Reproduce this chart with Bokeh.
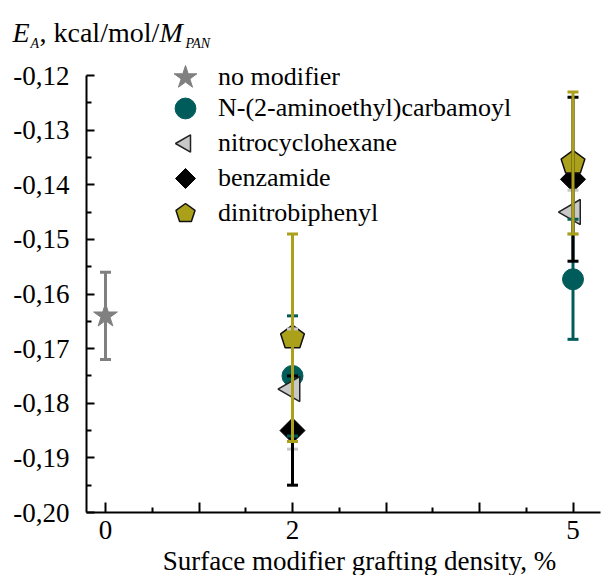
import numpy as np
from bokeh.plotting import figure
from bokeh.models import (Range1d, FixedTicker, CustomJSTickFormatter, Whisker, TeeHead,
                          ColumnDataSource, Legend, LegendItem, Label)
from bokeh.embed import file_html
from bokeh.resources import INLINE

# ---------------- data ----------------
series_names = ["no modifier", "N-(2-aminoethyl)carbamoyl", "nitrocyclohexane",
                "benzamide", "dinitrobiphenyl"]
x_nomod = [0]
y_nomod = [-0.164]
err_nomod = [0.008]

x_mod = [2, 5]
y_carbamoyl = [-0.175, -0.1573]
err_carbamoyl = [0.011, 0.011]
y_nitrocyc = [-0.1774, -0.145]
err_nitrocyc = [0.011, 0.004]
y_benzamide = [-0.185, -0.139]
err_benzamide = [0.010, 0.015]
y_dinitro = [-0.168, -0.136]
err_dinitro = [0.019, 0.013]

y_ticks = [-0.20, -0.19, -0.18, -0.17, -0.16, -0.15, -0.14, -0.13, -0.12]
y_minor = [-0.195, -0.185, -0.175, -0.165, -0.155, -0.145, -0.135, -0.125]
x_ticks = [0, 1, 2, 3, 4, 5]
x_minor = [0.5, 1.5, 2.5, 3.5, 4.5]
x_labelled = [0, 2, 5]

# ---------------- layout ----------------
W, H = 613, 575
FONT = "Liberation Serif, Times New Roman, serif"
X0_PX, X_PER_UNIT = 105.0, 93.5
Y_TOP_PX, Y_BOT_PX = 75.0, 512.0
Y_TOP, Y_BOT = -0.12, -0.20
y_per_px = (Y_TOP - Y_BOT) / (Y_BOT_PX - Y_TOP_PX)
x_start = -X0_PX / X_PER_UNIT
x_end = (W - X0_PX) / X_PER_UNIT
y_end = Y_TOP + Y_TOP_PX * y_per_px
y_start = Y_BOT - (H - Y_BOT_PX) * y_per_px
x_axis_lo = (86 - X0_PX) / X_PER_UNIT
x_axis_hi = (600 - X0_PX) / X_PER_UNIT

p = figure(width=W, height=H, output_backend="svg", toolbar_location=None,
           x_range=Range1d(x_start, x_end), y_range=Range1d(y_start, y_end),
           min_border_left=0, min_border_right=0, min_border_top=0, min_border_bottom=0)
p.outline_line_color = None
p.grid.visible = False
p.background_fill_color = "white"
p.border_fill_color = "white"

xa = p.xaxis[0]
ya = p.yaxis[0]
xa.fixed_location = Y_BOT
ya.fixed_location = x_axis_lo
xa.bounds = (x_axis_lo, x_axis_hi)
ya.bounds = (Y_BOT, Y_TOP)
xa.ticker = FixedTicker(ticks=x_ticks, minor_ticks=x_minor)
ya.ticker = FixedTicker(ticks=y_ticks, minor_ticks=y_minor)
xa.formatter = CustomJSTickFormatter(args=dict(keep=x_labelled),
                                     code="return keep.includes(tick) ? String(tick) : '';")
ya.formatter = CustomJSTickFormatter(code="return tick.toFixed(2).replace('.', ',');")
for ax in (xa, ya):
    ax.axis_line_color = "black"
    ax.axis_line_width = 2
    ax.major_tick_line_color = "black"
    ax.major_tick_line_width = 2
    ax.minor_tick_line_color = "black"
    ax.minor_tick_line_width = 2
    ax.major_tick_out = 0
    ax.minor_tick_out = 0
    ax.major_label_text_font = FONT
    ax.major_label_text_font_size = "27px"
    ax.major_label_text_color = "black"
xa.major_tick_in = 10
xa.minor_tick_in = 5
ya.major_tick_in = 8
ya.minor_tick_in = 5
xa.major_label_standoff = 8
ya.major_label_standoff = 17

# ---------------- glyphs ----------------
c_gray = "#808080"
c_teal = "#005c5a"
c_light = "#c8c8c8"
c_black = "#000000"
c_olive = "#aaa01a"

def msrc(xv, yv, ev):
    return ColumnDataSource(dict(x=xv, y=yv,
                                 lo=[a - b for a, b in zip(yv, ev)],
                                 hi=[a + b for a, b in zip(yv, ev)]))

src_nomod = msrc(x_nomod, y_nomod, err_nomod)
src_carb = msrc(x_mod, y_carbamoyl, err_carbamoyl)
src_nitro = msrc(x_mod, y_nitrocyc, err_nitrocyc)
src_benz = msrc(x_mod, y_benzamide, err_benzamide)
src_dini = msrc(x_mod, y_dinitro, err_dinitro)

r_nomod = p.scatter("x", "y", source=src_nomod, marker="star", size=25,
                    fill_color=c_gray, line_color=c_gray)
r_carb = p.scatter("x", "y", source=src_carb, marker="circle", size=21,
                   fill_color=c_teal, line_color=c_teal)
r_nitro = p.ngon("x", "y", source=src_nitro, radius=14.5, radius_units="screen", n=3,
                 angle=np.pi / 2, fill_color=c_light, line_color="#222222", line_width=1.5)
r_benz = p.ngon("x", "y", source=src_benz, radius=12.5, radius_units="screen", n=4,
                angle=0, fill_color=c_black, line_color=c_black)
r_dini = p.ngon("x", "y", source=src_dini, radius=12.5, radius_units="screen", n=5,
                angle=0, fill_color=c_olive, line_color="#111111", line_width=1.5)

for src, col in ((src_nomod, c_gray), (src_carb, c_teal), (src_nitro, c_light),
                 (src_benz, c_black), (src_dini, c_olive)):
    w = Whisker(base="x", upper="hi", lower="lo", source=src, level="overlay",
                line_color=col, line_width=3,
                upper_head=TeeHead(size=11, line_color=col, line_width=3),
                lower_head=TeeHead(size=11, line_color=col, line_width=3))
    p.add_layout(w)

# legend: one Legend per row so the row pitch can be tighter than the glyph box
row_centres = [77, 108, 143, 178, 213]   # canvas px of each legend row
glyph_boxes = [60, 52, 50, 50, 50]
MARK_CX, TEXT_X = 185, 218
for name, rend, yc, gb in zip(series_names, [r_nomod, r_carb, r_nitro, r_benz, r_dini],
                              row_centres, glyph_boxes):
    lg = Legend(items=[LegendItem(label=name, renderers=[rend])],
                location=(MARK_CX - gb / 2, H - (yc + gb / 2)), glyph_width=gb, glyph_height=gb,
                padding=0, margin=0, spacing=0, label_standoff=int(TEXT_X - (MARK_CX + gb / 2)),
                border_line_color=None, background_fill_alpha=0,
                label_text_font=FONT, label_text_font_size="26px", label_text_color="black")
    p.add_layout(lg)

# ---------------- texts (frame == canvas) ----------------
DY = 9  # compensation of label baseline placement

def lab(text, cx, cy, size, style="normal", align="left"):
    p.add_layout(Label(x=cx, y=H - cy + DY, x_units="screen", y_units="screen", text=text,
                       text_font=FONT, text_font_size=size, text_font_style=style,
                       text_align=align, text_baseline="alphabetic", text_color="black"))

lab("E", 12, 41, "28px", "italic")
lab("A", 30, 52, "14px", "italic")
lab(", kcal/mol/", 39, 41, "28px")
lab("M", 159, 41, "28px", "italic")
lab("PAN", 185, 52, "14px", "italic")
lab("Surface modifier grafting density, %", 359, 569, "27px", align="center")

open("out.html", "w").write(file_html(p, INLINE))
